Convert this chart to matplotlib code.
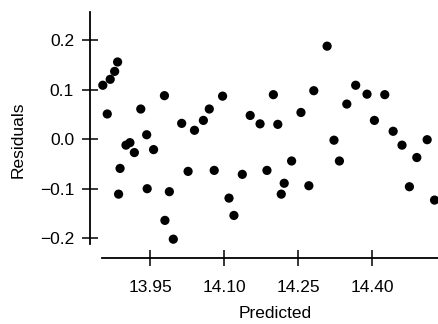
import matplotlib
matplotlib.use("Agg")
import matplotlib.pyplot as plt
import numpy as np

predicted = [13.854, 13.869, 13.878, 13.884, 13.863, 13.886, 13.889, 13.901, 13.909, 13.918,
             13.931, 13.943, 13.944, 13.957, 13.979, 13.980, 13.989, 13.997, 14.014, 14.027,
             14.040, 14.058, 14.070, 14.080, 14.097, 14.110, 14.120, 14.137, 14.153, 14.173,
             14.187, 14.200, 14.209, 14.216, 14.222, 14.237, 14.256, 14.272, 14.282, 14.309,
             14.323, 14.334, 14.349, 14.367, 14.390, 14.405, 14.426, 14.443, 14.461, 14.476,
             14.491, 14.512, 14.527]
residuals = [0.109, 0.121, 0.137, 0.156, 0.051, -0.111, -0.059, -0.012, -0.007, -0.027,
             0.061, 0.009, -0.100, -0.021, 0.088, -0.164, -0.106, -0.202, 0.032, -0.065,
             0.018, 0.038, 0.061, -0.063, 0.087, -0.119, -0.154, -0.071, 0.048, 0.031,
             -0.063, 0.090, 0.030, -0.111, -0.089, -0.044, 0.054, -0.094, 0.098, 0.188,
             -0.002, -0.044, 0.071, 0.109, 0.091, 0.038, 0.090, 0.016, -0.012, -0.096,
             -0.037, -0.001, -0.123]
x_ticks = [13.95, 14.10, 14.25, 14.40]
x_tick_labels = ["13.95", "14.10", "14.25", "14.40"]
y_ticks = [-0.2, -0.1, 0.0, 0.1, 0.2]
y_tick_labels = ["\u22120.2", "\u22120.1", "0.0", "0.1", "0.2"]

plt.rcParams['font.family'] = ['Liberation Sans', 'DejaVu Sans']

fig = plt.figure(figsize=(4.38, 3.24), dpi=100)
ax = fig.add_axes([90/438, (324-258)/324, (438-90)/438, (258-12)/324])
ax.scatter(predicted, residuals, s=44, color='black', edgecolors='none', zorder=3)

ax.set_xlim(13.828, 14.534)
ax.set_ylim(-0.240, 0.257)
ax.set_xticks(x_ticks)
ax.set_xticklabels(x_tick_labels)
ax.set_yticks(y_ticks)
ax.set_yticklabels(y_tick_labels)

for s in ['top', 'right']:
    ax.spines[s].set_visible(False)
ax.spines['left'].set_bounds(-0.212, 0.257)
ax.spines['bottom'].set_bounds(13.853, 14.534)
ax.spines['left'].set_linewidth(1.3)
ax.spines['bottom'].set_linewidth(1.3)
ax.tick_params(axis='both', direction='inout', length=12, width=1.1, labelsize=12.5)
ax.tick_params(axis='x', pad=10)
ax.tick_params(axis='y', pad=5.5)

ax.set_xlabel('Predicted', fontsize=12.5)
ax.set_ylabel('Residuals', fontsize=12.5)
ax.xaxis.set_label_coords(0.532, -0.195)
ax.yaxis.set_label_coords(-0.185, 0.48)

fig.savefig('out.png', dpi=100)
